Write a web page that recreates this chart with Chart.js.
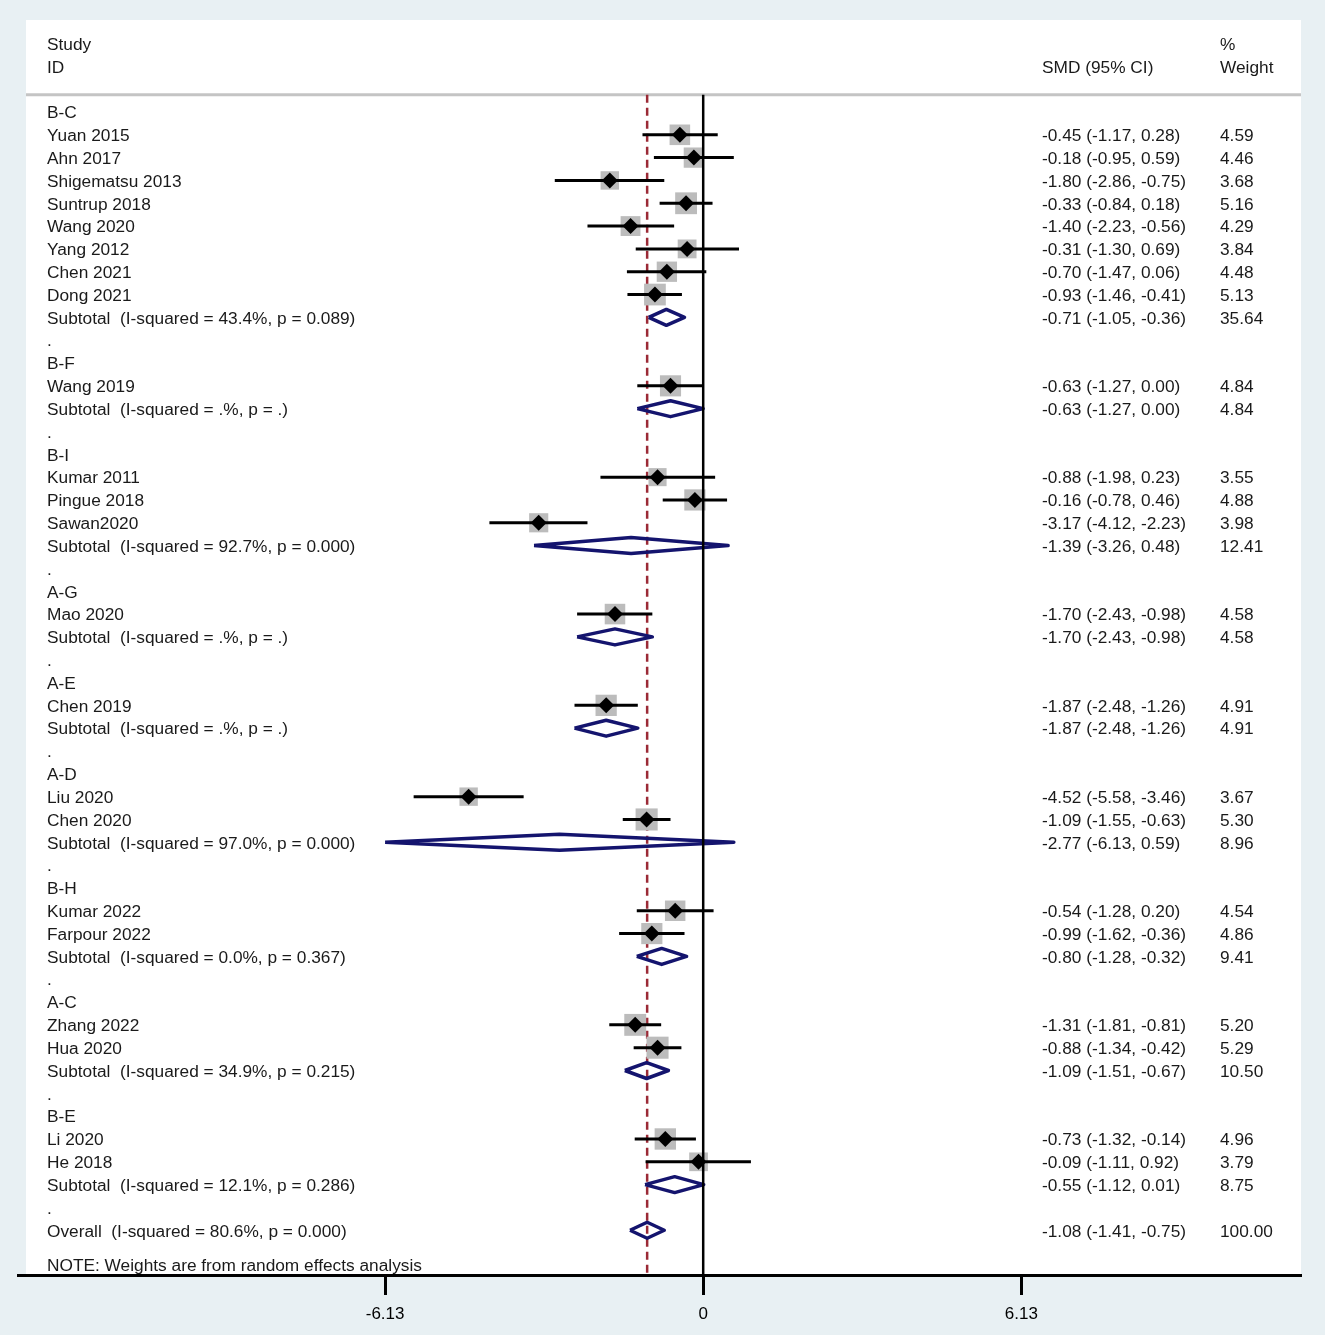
<!DOCTYPE html>
<html>
<head>
<meta charset="utf-8">
<title>Forest plot</title>
<script src="https://cdn.jsdelivr.net/npm/chart.js@4.4.1/dist/chart.umd.min.js"></script>
<style>
  html, body { margin: 0; padding: 0; background: #e8f0f3; }
  canvas { display: block; }
</style>
</head>
<body>
<canvas id="forestChart" width="1325" height="1335"></canvas>
<script>
// Subgroups, in plotting order
const groups = ["B-C", "B-F", "B-I", "A-G", "A-E", "A-D", "B-H", "A-C", "B-E"];

// Individual studies
const studyGroup = ["B-C", "B-C", "B-C", "B-C", "B-C", "B-C", "B-C", "B-C",
    "B-F", "B-I", "B-I", "B-I", "A-G", "A-E", "A-D", "A-D", "B-H", "B-H", "A-C", "A-C", "B-E", "B-E"];
const studyNames = ["Yuan 2015", "Ahn 2017", "Shigematsu 2013", "Suntrup 2018", "Wang 2020", "Yang 2012", "Chen 2021", "Dong 2021",
    "Wang 2019", "Kumar 2011", "Pingue 2018", "Sawan2020", "Mao 2020", "Chen 2019", "Liu 2020", "Chen 2020",
    "Kumar 2022", "Farpour 2022", "Zhang 2022", "Hua 2020", "Li 2020", "He 2018"];
const studySMD = [-0.45, -0.18, -1.80, -0.33, -1.40, -0.31, -0.70, -0.93,
    -0.63, -0.88, -0.16, -3.17, -1.70, -1.87, -4.52, -1.09, -0.54, -0.99, -1.31, -0.88, -0.73, -0.09];
const studyLow = [-1.17, -0.95, -2.86, -0.84, -2.23, -1.30, -1.47, -1.46,
    -1.27, -1.98, -0.78, -4.12, -2.43, -2.48, -5.58, -1.55, -1.28, -1.62, -1.81, -1.34, -1.32, -1.11];
const studyHigh = [0.28, 0.59, -0.75, 0.18, -0.56, 0.69, 0.06, -0.41,
    0.00, 0.23, 0.46, -2.23, -0.98, -1.26, -3.46, -0.63, 0.20, -0.36, -0.81, -0.42, -0.14, 0.92];
const studyWeight = [4.59, 4.46, 3.68, 5.16, 4.29, 3.84, 4.48, 5.13,
    4.84, 3.55, 4.88, 3.98, 4.58, 4.91, 3.67, 5.30, 4.54, 4.86, 5.20, 5.29, 4.96, 3.79];

// Subtotals, one per subgroup
const subI2 = ["43.4", ".", "92.7", ".", ".", "97.0", "0.0", "34.9", "12.1"];
const subP = ["0.089", ".", "0.000", ".", ".", "0.000", "0.367", "0.215", "0.286"];
const subSMD = [-0.71, -0.63, -1.39, -1.70, -1.87, -2.77, -0.80, -1.09, -0.55];
const subLow = [-1.05, -1.27, -3.26, -2.43, -2.48, -6.13, -1.28, -1.51, -1.12];
const subHigh = [-0.36, 0.00, 0.48, -0.98, -1.26, 0.59, -0.32, -0.67, 0.01];
const subWeight = [35.64, 4.84, 12.41, 4.58, 4.91, 8.96, 9.41, 10.50, 8.75];

// Overall pooled estimate: I2, p / SMD, low, high, weight
const overallStats = ["80.6", "0.000"];
const overallValues = [-1.08, -1.41, -0.75, 100.00];

// Axis ticks
const tickValues = [-6.13, 0, 6.13];
const tickLabels = ["-6.13", "0", "6.13"];

const FONT = "'Liberation Sans', Arial, sans-serif";
const TEXT_COLOR = "#1a1a1a";
const NAVY = "#14146e";

// Build the row list (one row per printed line)
const rows = [];
groups.forEach((g, gi) => {
    rows.push({ kind: "group", label: g });
    studyNames.forEach((name, i) => {
        if (studyGroup[i] !== g) return;
        rows.push({ kind: "study", label: name, est: studySMD[i], lo: studyLow[i], hi: studyHigh[i], w: studyWeight[i] });
    });
    rows.push({
        kind: "subtotal",
        label: `Subtotal  (I-squared = ${subI2[gi]}%, p = ${subP[gi]})`,
        est: subSMD[gi], lo: subLow[gi], hi: subHigh[gi], w: subWeight[gi]
    });
    rows.push({ kind: "dot", label: "." });
});
rows.push({
    kind: "subtotal",
    label: `Overall  (I-squared = ${overallStats[0]}%, p = ${overallStats[1]})`,
    est: overallValues[0], lo: overallValues[1], hi: overallValues[2], w: overallValues[3]
});
rows.forEach((r, i) => { r.row = i; });

const studyRows = rows.filter((r) => r.kind === "study");
const pooledRows = rows.filter((r) => r.kind === "subtotal");

const Y_MIN = -4.03;
const Y_MAX = 50.96;
const SEP_ROW = -0.75;
const DIAMOND_HALF = 0.35;

// Datasets
const datasets = [];

// reference lines
datasets.push({
    data: [{ x: overallValues[0], y: SEP_ROW }, { x: overallValues[0], y: Y_MAX }],
    showLine: true, borderColor: "#9b2a36", borderWidth: 2.5, borderDash: [8, 5],
    pointRadius: 0, order: 8
});
datasets.push({
    data: [{ x: 0, y: SEP_ROW }, { x: 0, y: Y_MAX }],
    showLine: true, borderColor: "#000", borderWidth: 2.5,
    pointRadius: 0, order: 2
});

// weight boxes
datasets.push({
    data: studyRows.map((r) => ({ x: r.est, y: r.row })),
    pointStyle: "rect",
    pointRadius: (ctx) => 9.6 * Math.sqrt(studyRows[ctx.dataIndex].w) / Math.SQRT2,
    backgroundColor: "#bcbcbc", borderWidth: 0, order: 6
});

// confidence intervals
studyRows.forEach((r) => {
    datasets.push({
        data: [{ x: r.lo, y: r.row }, { x: r.hi, y: r.row }],
        showLine: true, borderColor: "#000", borderWidth: 3,
        pointRadius: 0, order: 4
    });
});

// point estimates
datasets.push({
    data: studyRows.map((r) => ({ x: r.est, y: r.row })),
    pointStyle: "rectRot", pointRadius: 8,
    backgroundColor: "#000", borderWidth: 0, order: 1
});

// pooled diamonds
pooledRows.forEach((r) => {
    datasets.push({
        data: [
            { x: r.lo, y: r.row },
            { x: r.est, y: r.row - DIAMOND_HALF },
            { x: r.hi, y: r.row },
            { x: r.est, y: r.row + DIAMOND_HALF },
            { x: r.lo, y: r.row }
        ],
        showLine: true, borderColor: NAVY, borderWidth: 3.5, borderJoinStyle: "round",
        pointRadius: 0, order: 3
    });
});

// Panel background, header rule and all text columns
const forestText = {
    id: "forestText",
    beforeDraw(chart) {
        const { ctx, chartArea } = chart;
        const y = chart.scales.y;
        ctx.save();
        ctx.fillStyle = "#fff";
        ctx.fillRect(chartArea.left, chartArea.top, chartArea.right - chartArea.left, chartArea.bottom - chartArea.top);
        ctx.strokeStyle = "#c4c4c4";
        ctx.lineWidth = 3;
        ctx.beginPath();
        ctx.moveTo(chartArea.left, y.getPixelForValue(SEP_ROW));
        ctx.lineTo(chartArea.right, y.getPixelForValue(SEP_ROW));
        ctx.stroke();
        ctx.restore();
    },
    afterDraw(chart) {
        const { ctx, chartArea } = chart;
        const y = chart.scales.y;
        const xLabel = chartArea.left + 21;
        const xSmd = chartArea.left + 1016;
        const xWeight = chartArea.left + 1194;
        const ty = (v) => y.getPixelForValue(v) + 1.5;
        ctx.save();

        // axis line runs a little past the panel on the left
        ctx.strokeStyle = "#000";
        ctx.lineWidth = 3;
        ctx.beginPath();
        ctx.moveTo(chartArea.left - 9, chartArea.bottom + 0.5);
        ctx.lineTo(chartArea.left, chartArea.bottom + 0.5);
        ctx.stroke();

        ctx.font = `17.3px ${FONT}`;
        ctx.fillStyle = TEXT_COLOR;
        ctx.textBaseline = "middle";
        ctx.textAlign = "left";

        ctx.fillText("Study", xLabel, ty(-3));
        ctx.fillText("ID", xLabel, ty(-2));
        ctx.fillText("SMD (95% CI)", xSmd, ty(-2));
        ctx.fillText("%", xWeight, ty(-3));
        ctx.fillText("Weight", xWeight, ty(-2));

        rows.forEach((r) => {
            const py = ty(r.row);
            ctx.fillText(r.label, xLabel, py);
            if (r.kind === "study" || r.kind === "subtotal") {
                ctx.fillText(`${r.est.toFixed(2)} (${r.lo.toFixed(2)}, ${r.hi.toFixed(2)})`, xSmd, py);
                ctx.fillText(r.w.toFixed(2), xWeight, py);
            }
        });

        ctx.fillText("NOTE: Weights are from random effects analysis", xLabel, ty(rows.length + 0.5));
        ctx.restore();
    }
};

new Chart(document.getElementById("forestChart"), {
    type: "scatter",
    data: { datasets },
    options: {
        responsive: false,
        animation: false,
        events: [],
        layout: { padding: { left: 26, right: 24, top: 20, bottom: 0 } },
        plugins: { legend: { display: false }, tooltip: { enabled: false } },
        scales: {
            x: {
                type: "linear",
                position: "bottom",
                min: -13.05,
                max: 11.52,
                afterBuildTicks: (scale) => { scale.ticks = tickValues.map((v) => ({ value: v })); },
                afterFit: (scale) => { scale.height = 60; },
                ticks: {
                    callback: (v, i) => tickLabels[i],
                    autoSkip: false, maxRotation: 0,
                    padding: 9, color: "#000",
                    font: { family: FONT, size: 17 }
                },
                grid: { drawOnChartArea: false, drawTicks: true, tickLength: 20, tickWidth: 3, tickColor: "#000" },
                border: { display: true, color: "#000", width: 3 }
            },
            y: {
                type: "linear",
                reverse: true,
                min: Y_MIN,
                max: Y_MAX,
                display: false
            }
        }
    },
    plugins: [forestText]
});
</script>
</body>
</html>
